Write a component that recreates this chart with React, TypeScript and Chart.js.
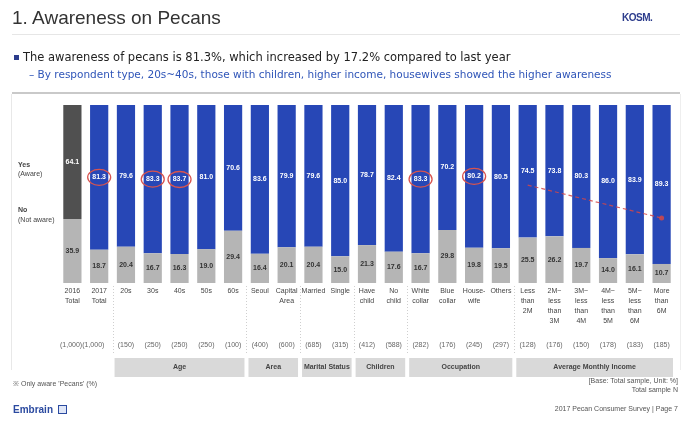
import React, { useEffect, useRef } from "react";
import { Chart, registerables } from "chart.js";

Chart.register(...registerables);

// ---------- data ----------
const categories: string[][] = [
  ["2016", "Total"],
  ["2017", "Total"],
  ["20s"],
  ["30s"],
  ["40s"],
  ["50s"],
  ["60s"],
  ["Seoul"],
  ["Capital", "Area"],
  ["Married"],
  ["Single"],
  ["Have", "child"],
  ["No", "child"],
  ["White", "collar"],
  ["Blue", "collar"],
  ["House-", "wife"],
  ["Others"],
  ["Less", "than", "2M"],
  ["2M~", "less", "than", "3M"],
  ["3M~", "less", "than", "4M"],
  ["4M~", "less", "than", "5M"],
  ["5M~", "less", "than", "6M"],
  ["More", "than", "6M"],
];

const awareValues = [
  64.1, 81.3, 79.6, 83.3, 83.7, 81.0, 70.6, 83.6, 79.9, 79.6, 85.0, 78.7,
  82.4, 83.3, 70.2, 80.2, 80.5, 74.5, 73.8, 80.3, 86.0, 83.9, 89.3,
];
const notAwareValues = [
  35.9, 18.7, 20.4, 16.7, 16.3, 19.0, 29.4, 16.4, 20.1, 20.4, 15.0, 21.3,
  17.6, 16.7, 29.8, 19.8, 19.5, 25.5, 26.2, 19.7, 14.0, 16.1, 10.7,
];
const highlighted = [1, 3, 4, 13, 15];

const trendValues: (number | null)[] = [
  null, null, null, null, null, null, null, null, null, null, null, null,
  null, null, null, null, null, 55, null, null, null, null, 36.5,
];

const sampleLead = "(1,000)(1,000)";
const sampleSizes = [
  "", "", "(150)", "(250)", "(250)", "(250)", "(100)", "(400)", "(600)",
  "(685)", "(315)", "(412)", "(588)", "(282)", "(176)", "(245)", "(297)",
  "(128)", "(176)", "(150)", "(178)", "(183)", "(185)",
];

const groupLabels = [
  "Age",
  "Area",
  "Marital Status",
  "Children",
  "Occupation",
  "Average Monthly Income",
];
const groupStart = [2, 7, 9, 11, 13, 17];
const groupEnd = [6, 8, 10, 12, 16, 22];

const FONT = "'Liberation Sans', Arial, sans-serif";
const WIDE = "'DejaVu Sans', Verdana, sans-serif";

const overlayPlugin = {
  id: "overlay",
  afterDatasetsDraw(chart: any) {
    const ctx = chart.ctx as CanvasRenderingContext2D;
    const x = chart.scales.x;
    const y = chart.scales.y;
    const step = x.getPixelForValue(1) - x.getPixelForValue(0);
    const bottom = y.getPixelForValue(0);
    ctx.save();
    // segment labels
    ctx.textAlign = "center";
    ctx.textBaseline = "middle";
    ctx.font = `bold 7px ${FONT}`;
    for (let i = 0; i < categories.length; i++) {
      const cx = x.getPixelForValue(i);
      const nv = notAwareValues[i];
      const av = awareValues[i];
      const yN = (y.getPixelForValue(0) + y.getPixelForValue(nv)) / 2;
      const yA = (y.getPixelForValue(nv) + y.getPixelForValue(100)) / 2;
      ctx.fillStyle = "#333333";
      ctx.fillText(nv.toFixed(1), cx, yN);
      ctx.fillStyle = "#ffffff";
      ctx.fillText(av.toFixed(1), cx, yA);
      if (highlighted.includes(i)) {
        ctx.strokeStyle = "#d8544f";
        ctx.lineWidth = 1.3;
        ctx.beginPath();
        ctx.ellipse(cx, yA, 11.5, 8, 0, 0, Math.PI * 2);
        ctx.stroke();
      }
    }
    // category labels
    ctx.font = `7px ${FONT}`;
    ctx.fillStyle = "#444444";
    ctx.textBaseline = "top";
    for (let i = 0; i < categories.length; i++) {
      const cx = x.getPixelForValue(i);
      categories[i].forEach((line, k) => {
        ctx.fillText(line, cx, bottom + 5 + k * 10);
      });
      if (sampleSizes[i]) {
        ctx.fillStyle = "#666666";
        ctx.fillText(sampleSizes[i], cx, bottom + 59);
        ctx.fillStyle = "#444444";
      }
    }
    ctx.textAlign = "left";
    ctx.fillStyle = "#666666";
    ctx.fillText(sampleLead, x.getPixelForValue(0) - step / 2 + 1, bottom + 59);

    // dotted separators
    ctx.strokeStyle = "#cfcfcf";
    ctx.lineWidth = 1;
    ctx.setLineDash([1, 2]);
    const seps = [2, 7, 9, 11, 13, 17];
    seps.forEach((s) => {
      const sx = Math.round(x.getPixelForValue(s) - step / 2) + 0.5;
      ctx.beginPath();
      ctx.moveTo(sx, bottom + 3);
      ctx.lineTo(sx, bottom + 72);
      ctx.stroke();
    });
    ctx.setLineDash([]);

    // group bands
    ctx.textAlign = "center";
    ctx.textBaseline = "middle";
    ctx.font = `bold 7px ${FONT}`;
    for (let g = 0; g < groupLabels.length; g++) {
      const l = x.getPixelForValue(groupStart[g]) - step / 2 + 2;
      const r = x.getPixelForValue(groupEnd[g]) + step / 2 - 2;
      ctx.fillStyle = "#d9d9d9";
      ctx.fillRect(l, bottom + 75, r - l, 19);
      ctx.fillStyle = "#444444";
      ctx.fillText(groupLabels[g], (l + r) / 2, bottom + 84.5);
    }
    ctx.restore();
  },
};

export default function App() {
  const ref = useRef<HTMLCanvasElement | null>(null);
  useEffect(() => {
    document.body.style.margin = "0";
    if (!ref.current) return;
    const chart = new Chart(ref.current, {
      type: "bar",
      data: {
        labels: categories.map((c) => c.join(" ")),
        datasets: [
          {
            type: "line" as any,
            label: "trend",
            data: trendValues as any,
            borderColor: "rgba(214,70,70,0.85)",
            borderWidth: 1.2,
            borderDash: [4, 3],
            spanGaps: true,
            pointRadius: trendValues.map((v, i) => (i === 22 ? 2.5 : 0)) as any,
            pointBackgroundColor: "rgba(214,70,70,0.85)",
            pointBorderWidth: 0,
            order: 0,
          } as any,
          {
            label: "Not aware",
            data: notAwareValues,
            backgroundColor: notAwareValues.map(() => "#b5b5b5"),
            borderWidth: 0,
            barPercentage: 0.68,
            categoryPercentage: 1,
            order: 1,
          },
          {
            label: "Aware",
            data: awareValues,
            backgroundColor: awareValues.map((_, i) => (i === 0 ? "#505050" : "#2747b6")),
            borderWidth: 0,
            barPercentage: 0.68,
            categoryPercentage: 1,
            order: 1,
          },
        ],
      },
      options: {
        responsive: false,
        maintainAspectRatio: false,
        animation: false,
        devicePixelRatio: 1,
        layout: { padding: { left: 59, right: 15, top: 105, bottom: 138 } },
        scales: {
          x: { display: false, stacked: true },
          y: { display: false, stacked: true, min: 0, max: 100 },
        },
        plugins: {
          legend: { display: false },
          tooltip: { enabled: false },
        },
      },
      plugins: [overlayPlugin],
    });
    return () => chart.destroy();
  }, []);

  const txt = (style: React.CSSProperties, content: React.ReactNode) => (
    <div style={{ position: "absolute", fontFamily: FONT, whiteSpace: "nowrap", ...style }}>{content}</div>
  );

  return (
    <div style={{ position: "fixed", left: 0, top: 0, width: 690, height: 421, background: "#fff", overflow: "hidden" }}>
      {/* frame lines */}
      <div style={{ position: "absolute", left: 12, top: 34, width: 668, height: 1, background: "#e6e6e6" }} />
      <div style={{ position: "absolute", left: 12, top: 92, width: 668, height: 2, background: "#c9c9c9" }} />
      <div style={{ position: "absolute", left: 11, top: 94, width: 1, height: 276, background: "#e8e8e8" }} />
      <div style={{ position: "absolute", left: 680, top: 94, width: 1, height: 276, background: "#eeeeee" }} />
      <canvas ref={ref} width={690} height={421} style={{ position: "absolute", left: 0, top: 0, width: 690, height: 421 }} />
      {txt({ left: 12, top: 7, fontSize: 19, color: "#333" }, "1. Awareness on Pecans")}
      {txt({ left: 622, top: 12, fontSize: 10, fontWeight: "bold", color: "#2c3c8c", letterSpacing: -0.5 }, "KOSM.")}
      <div style={{ position: "absolute", left: 14, top: 55, width: 5, height: 5, background: "#2c3c8c" }} />
      {txt({ left: 23, top: 50, fontSize: 11.5, fontFamily: WIDE, color: "#222" }, "The awareness of pecans is 81.3%, which increased by 17.2% compared to last year")}
      {txt({ left: 29, top: 68, fontSize: 10.5, fontFamily: WIDE, color: "#2f55b8" }, "– By respondent type, 20s~40s, those with children, higher income, housewives showed the higher awareness")}
      {txt({ left: 18, top: 160, fontSize: 7, fontWeight: "bold", color: "#444", lineHeight: "9px" }, "Yes")}
      {txt({ left: 18, top: 169, fontSize: 7, color: "#444", lineHeight: "9px" }, "(Aware)")}
      {txt({ left: 18, top: 205, fontSize: 7, fontWeight: "bold", color: "#444", lineHeight: "9px" }, "No")}
      {txt({ left: 18, top: 215, fontSize: 7, color: "#444", lineHeight: "9px" }, "(Not aware)")}
      {txt({ left: 13, top: 379, fontSize: 7, color: "#555" }, "※ Only aware 'Pecans' (%)")}
      {txt({ right: 12, top: 376, fontSize: 7, color: "#555", textAlign: "right", lineHeight: "9px" }, <>[Base: Total sample, Unit: %]<br />Total sample N</>)}
      {txt({ right: 12, top: 405, fontSize: 7, color: "#555" }, "2017 Pecan Consumer Survey | Page 7")}
      {txt({ left: 13, top: 404, fontSize: 10, fontWeight: "bold", color: "#2b4aa0" }, "Embrain")}
      <div style={{ position: "absolute", left: 58, top: 405, width: 9, height: 9, border: "1px solid #2b4aa0", boxSizing: "border-box", background: "#dfe6f7" }} />
    </div>
  );
}
